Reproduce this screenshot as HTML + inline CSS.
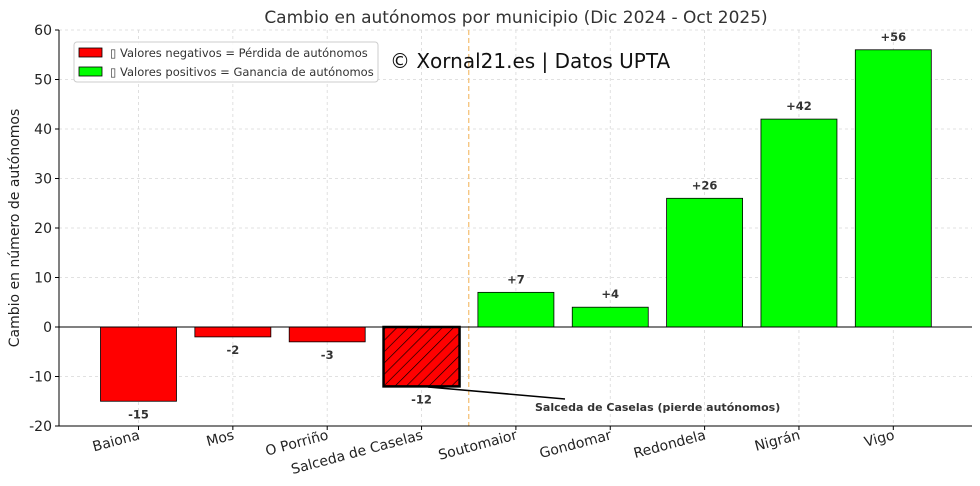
<!DOCTYPE html>
<html><head><meta charset="utf-8"><style>
body{margin:0;background:#fff;}
svg{display:block;font-family:"DejaVu Sans","Liberation Sans",sans-serif;}
</style></head><body>
<svg id="c" width="980" height="486">
<defs><pattern id="hatch" patternUnits="userSpaceOnUse" width="8" height="8" patternTransform="rotate(45)"><rect width="8" height="8" fill="#ff0000"/><line x1="0" y1="0" x2="0" y2="8" stroke="#000" stroke-width="1.3"/></pattern></defs>
<text x="516" y="23" text-anchor="middle" font-size="17" fill="#333">Cambio en autónomos por municipio (Dic 2024 - Oct 2025)</text>
<text transform="translate(19,228) rotate(-90)" text-anchor="middle" font-size="14" fill="#222">Cambio en número de autónomos</text>
<g id="grid"></g><g id="bars"></g><g id="axes"></g>
</svg>
<script>
const categories=["Baiona","Mos","O Porriño","Salceda de Caselas","Soutomaior","Gondomar","Redondela","Nigrán","Vigo"];
const values=[-15,-2,-3,-12,7,4,26,42,56];
const yTicks=[-20,-10,0,10,20,30,40,50,60];
const NS="http://www.w3.org/2000/svg";
const L=59,R=972,T=30,B=426;
const y=v=>B-(v+20)/80*(B-T);
const x=i=>138.5+i*94.35;
const bw=76;
function mk(tag,attrs,parent,text){const e=document.createElementNS(NS,tag);for(const k in attrs)e.setAttribute(k,attrs[k]);if(text!==undefined)e.textContent=text;parent.appendChild(e);return e;}
const svg=document.getElementById('c'),grid=document.getElementById('grid'),bars=document.getElementById('bars'),axes=document.getElementById('axes');
yTicks.forEach(t=>{
 const g=mk('line',{x1:L,x2:R,y1:y(t),y2:y(t),stroke:'#d8d8d8','stroke-dasharray':'3,3','stroke-width':0.8},grid);
 
 
 mk('line',{x1:L-4,x2:L,y1:y(t),y2:y(t),stroke:'#000'},axes);
 const tl=mk('text',{x:L-7,y:y(t)+5,'text-anchor':'end','font-size':14,fill:'#222'},axes,t);
 
 
});
categories.forEach((c,i)=>{
 const g=mk('line',{x1:x(i),x2:x(i),y1:T,y2:B,stroke:'#d8d8d8','stroke-dasharray':'3,3','stroke-width':0.8},grid);
 
 
});
const vl=mk('line',{x1:(x(3)+x(4))/2,x2:(x(3)+x(4))/2,y1:T,y2:B,stroke:'#f5c37a','stroke-dasharray':'5,3','stroke-width':1.3},grid);


categories.forEach((c,i)=>{
 const v=values[i],hi=i===3;
 const top=Math.min(y(v),y(0)),h=Math.abs(y(v)-y(0));
 const r=mk('rect',{x:x(i)-bw/2,y:top,width:bw,height:h,fill:hi?'url(#hatch)':(v<0?'#ff0000':'#00ff00'),stroke:'#000','stroke-width':hi?2.5:0.8},bars);
 
 
 const ly=v<0?y(v)+17:y(v)-9;
 const lt=mk('text',{x:x(i),y:ly,'text-anchor':'middle','font-size':11.5,'font-weight':'bold',fill:'#333'},bars,(v>0?'+':'')+v);
 
 
 mk('line',{x1:x(i),x2:x(i),y1:B,y2:B+4,stroke:'#000'},axes);
 const xl=mk('text',{transform:`translate(${x(i)+2},${B+13}) rotate(-15)`,'text-anchor':'end','font-size':14,fill:'#222'},axes,c);
 
 
});
mk('line',{x1:L,x2:R,y1:y(0),y2:y(0),stroke:'#000','stroke-width':1},axes);
mk('line',{x1:L,x2:L,y1:T,y2:B,stroke:'#000'},axes);
mk('line',{x1:L,x2:R,y1:B,y2:B,stroke:'#000'},axes);
const ar=mk('line',{x1:565,x2:428,y1:399,y2:387,stroke:'#000','stroke-width':1.6},axes);


const an=mk('text',{x:535,y:411,'font-size':11,'font-weight':'bold',fill:'#333'},axes,'Salceda de Caselas (pierde autónomos)');


const lg=mk('g',{},svg);


mk('rect',{x:74,y:42,width:304,height:40,rx:3,fill:'#fff','fill-opacity':0.85,stroke:'#ccc'},lg);
mk('rect',{x:79,y:48,width:23,height:9,fill:'#ff0000',stroke:'#000','stroke-width':0.8},lg);
mk('rect',{x:79,y:67,width:23,height:9,fill:'#00ff00',stroke:'#000','stroke-width':0.8},lg);
const l1=mk('text',{x:110,y:57,'font-size':11.5,fill:'#333'},lg,'▯ Valores negativos = Pérdida de autónomos');


const l2=mk('text',{x:110,y:76,'font-size':11.5,fill:'#333'},lg,'▯ Valores positivos = Ganancia de autónomos');


const wm=mk('text',{x:390,y:68,'font-size':20,fill:'#111'},svg,'© Xornal21.es | Datos UPTA');


</script>
</body></html>
